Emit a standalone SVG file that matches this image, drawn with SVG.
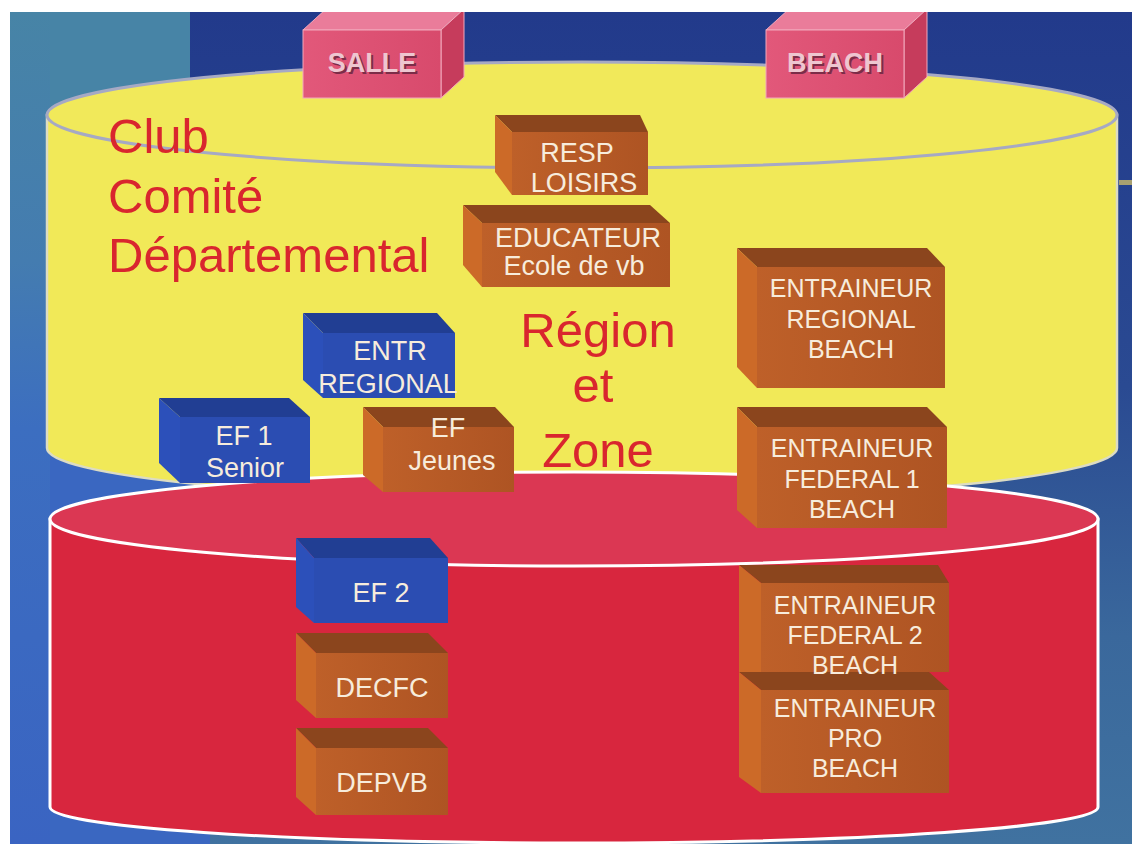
<svg xmlns="http://www.w3.org/2000/svg" width="1132" height="844" viewBox="0 0 1132 844">
<defs>
<linearGradient id="bgR" x1="0" y1="0" x2="0" y2="1">
<stop offset="0" stop-color="#223a8b"/>
<stop offset="0.45" stop-color="#2a4a92"/>
<stop offset="0.75" stop-color="#3a689c"/>
<stop offset="1" stop-color="#4072a0"/>
</linearGradient>
<linearGradient id="bgL" x1="0" y1="0" x2="0" y2="1">
<stop offset="0" stop-color="#4784a6"/>
<stop offset="0.3" stop-color="#447cb0"/>
<stop offset="0.5" stop-color="#3c6ec0"/>
<stop offset="1" stop-color="#3a64c2"/>
</linearGradient>
<linearGradient id="brownF" x1="0" y1="0" x2="1" y2="0">
<stop offset="0" stop-color="#be6029"/>
<stop offset="1" stop-color="#ae5423"/>
</linearGradient>
<linearGradient id="pinkF" x1="0" y1="0" x2="1" y2="0">
<stop offset="0" stop-color="#e2587a"/>
<stop offset="1" stop-color="#d84a6c"/>
</linearGradient>
<style>
.bt{fill:#8b451d}
.bl{fill:#cc6a28}
.bf{fill:url(#brownF)}
.ut{fill:#213e93}
.ul{fill:#2c50ba}
.uf{fill:#2b4db2}
.pt{fill:#ea7c9a;stroke:#f2a8bc;stroke-width:1}
.pr{fill:#c63c5c;stroke:#f2a8bc;stroke-width:1}
.pf{fill:url(#pinkF);stroke:#f2a8bc;stroke-width:1}
.bx{font-family:"Liberation Sans",Arial,sans-serif;font-size:27px;fill:#f7ecdc;text-anchor:middle}
.bx25{font-family:"Liberation Sans",Arial,sans-serif;font-size:25px;fill:#f7ecdc;text-anchor:middle}
.lvl{font-family:"Liberation Sans",Arial,sans-serif;font-size:49px;fill:#d9262e}
.pk{font-family:"Liberation Sans",Arial,sans-serif;font-size:27px;font-weight:bold;text-anchor:middle}
</style>
</defs>

<!-- background -->
<rect x="0" y="0" width="1132" height="844" fill="#ffffff"/>
<rect x="10" y="12" width="1122" height="832" fill="url(#bgR)"/>
<rect x="10" y="12" width="180" height="190" fill="#4784a6"/>
<rect x="10" y="420" width="200" height="424" fill="#3a67c1"/>
<rect x="10" y="12" width="40" height="832" fill="url(#bgL)"/>
<rect x="1119" y="180" width="13" height="5" fill="#a8a070"/>

<!-- yellow cylinder -->
<g id="cyl-yellow">
<path d="M47 115 L47 448 A535 52 0 0 0 1117 448 L1117 115 Z" fill="#f1e958" stroke="#dcdcc4" stroke-width="2.5"/>
<ellipse cx="582" cy="115" rx="535" ry="53" fill="#f1e95a" stroke="#a6a9c4" stroke-width="3"/>
</g>

<!-- boxes inside yellow -->
<g id="resp-loisirs">
<polygon class="bt" points="495,115 640,115 648,132 512,132"/>
<polygon class="bl" points="495,115 512,132 512,195 495,172"/>
<rect class="bf" x="512" y="132" width="136" height="63"/>
<text class="bx" x="577" y="162">RESP</text>
<text class="bx" x="584" y="192">LOISIRS</text>
</g>
<g id="educateur">
<polygon class="bt" points="463,205 650,205 670,223 482,223"/>
<polygon class="bl" points="463,205 482,223 482,287 463,265"/>
<rect class="bf" x="482" y="223" width="188" height="64"/>
<text class="bx" x="578" y="247">EDUCATEUR</text>
<text class="bx" x="574" y="275">Ecole de vb</text>
</g>
<g id="entr-regional-beach">
<polygon class="bt" points="737,248 927,248 945,267 757,267"/>
<polygon class="bl" points="737,248 757,267 757,388 737,367"/>
<rect class="bf" x="757" y="267" width="188" height="121"/>
<text class="bx25" x="851" y="297">ENTRAINEUR</text>
<text class="bx25" x="851" y="328">REGIONAL</text>
<text class="bx25" x="851" y="358">BEACH</text>
</g>
<g id="entr-regional">
<polygon class="ut" points="303,313 437,313 455,333 323,333"/>
<polygon class="ul" points="303,313 323,333 323,398 303,380"/>
<rect class="uf" x="323" y="333" width="132" height="65"/>
<text class="bx" x="390" y="360">ENTR</text>
<text class="bx" x="388" y="393">REGIONAL</text>
</g>

<!-- region labels (yellow) -->
<g id="label-club">
<text class="lvl" x="108" y="153">Club</text>
<text class="lvl" x="108" y="213">Comité</text>
<text class="lvl" x="108" y="272">Départemental</text>
</g>

<!-- red cylinder -->
<g id="cyl-red">
<path d="M50 519 L50 807 A524 36 0 0 0 1098 807 L1098 519 Z" fill="#d8263e" stroke="#ffffff" stroke-width="3"/>
<ellipse cx="574" cy="519" rx="524" ry="47" fill="#db3753" stroke="#ffffff" stroke-width="3"/>
</g>

<g id="label-region">
<text class="lvl" x="598" y="347" text-anchor="middle">Région</text>
<text class="lvl" x="593" y="402" text-anchor="middle">et</text>
<text class="lvl" x="598" y="467" text-anchor="middle">Zone</text>
</g>

<!-- boxes over both -->
<g id="ef1-senior">
<polygon class="ut" points="159,398 289,398 310,417 180,417"/>
<polygon class="ul" points="159,398 180,417 180,483 159,463"/>
<rect class="uf" x="180" y="417" width="130" height="66"/>
<text class="bx" x="244" y="445">EF 1</text>
<text class="bx" x="245" y="477">Senior</text>
</g>
<g id="ef-jeunes">
<polygon class="bt" points="363,407 495,407 514,427 383,427"/>
<polygon class="bl" points="363,407 383,427 383,492 363,475"/>
<rect class="bf" x="383" y="427" width="131" height="65"/>
<text class="bx" x="448" y="437">EF</text>
<text class="bx" x="452" y="470">Jeunes</text>
</g>
<g id="entr-federal1-beach">
<polygon class="bt" points="737,407 927,407 947,427 757,427"/>
<polygon class="bl" points="737,407 757,427 757,528 737,510"/>
<rect class="bf" x="757" y="427" width="190" height="101"/>
<text class="bx25" x="852" y="457">ENTRAINEUR</text>
<text class="bx25" x="852" y="488">FEDERAL 1</text>
<text class="bx25" x="852" y="518">BEACH</text>
</g>

<!-- boxes in red -->
<g id="ef2">
<polygon class="ut" points="296,538 430,538 448,558 314,558"/>
<polygon class="ul" points="296,538 314,558 314,623 296,607"/>
<rect class="uf" x="314" y="558" width="134" height="65"/>
<text class="bx" x="381" y="602">EF 2</text>
</g>
<g id="decfc">
<polygon class="bt" points="296,633 428,633 448,653 316,653"/>
<polygon class="bl" points="296,633 316,653 316,718 296,700"/>
<rect class="bf" x="316" y="653" width="132" height="65"/>
<text class="bx" x="382" y="697">DECFC</text>
</g>
<g id="depvb">
<polygon class="bt" points="296,728 428,728 448,748 316,748"/>
<polygon class="bl" points="296,728 316,748 316,815 296,797"/>
<rect class="bf" x="316" y="748" width="132" height="67"/>
<text class="bx" x="382" y="792">DEPVB</text>
</g>
<g id="entr-pro-beach">
<polygon class="bt" points="739,672 929,672 949,690 761,690"/>
<polygon class="bl" points="739,672 761,690 761,793 739,777"/>
<rect class="bf" x="761" y="690" width="188" height="103"/>
<text class="bx25" x="855" y="717">ENTRAINEUR</text>
<text class="bx25" x="855" y="747">PRO</text>
<text class="bx25" x="855" y="777">BEACH</text>
</g>
<g id="entr-federal2-beach">
<polygon class="bt" points="739,565 938,565 949,583 761,583"/>
<polygon class="bl" points="739,565 761,583 761,672 739,672"/>
<rect class="bf" x="761" y="583" width="188" height="89"/>
<text class="bx25" x="855" y="614">ENTRAINEUR</text>
<text class="bx25" x="855" y="644">FEDERAL 2</text>
<text class="bx25" x="855" y="674">BEACH</text>
</g>

<!-- top pink boxes -->
<g id="salle">
<polygon class="pt" points="303,30 326,9 464,9 441,30"/>
<polygon class="pr" points="441,30 464,9 464,77 441,98"/>
<rect class="pf" x="303" y="30" width="138" height="68"/>
<text class="pk" x="374" y="74" fill="#7c2c48">SALLE</text>
<text class="pk" x="372" y="72" fill="#eec6d0">SALLE</text>
</g>
<g id="beach">
<polygon class="pt" points="766,30 789,9 927,9 904,30"/>
<polygon class="pr" points="904,30 927,9 927,77 904,98"/>
<rect class="pf" x="766" y="30" width="138" height="68"/>
<text class="pk" x="837" y="74" fill="#7c2c48">BEACH</text>
<text class="pk" x="835" y="72" fill="#eec6d0">BEACH</text>
</g>

<!-- white margins -->
<rect x="0" y="0" width="1132" height="12" fill="#ffffff"/>
<rect x="0" y="0" width="10" height="844" fill="#ffffff"/>
<g id="connectors"/>
</svg>
